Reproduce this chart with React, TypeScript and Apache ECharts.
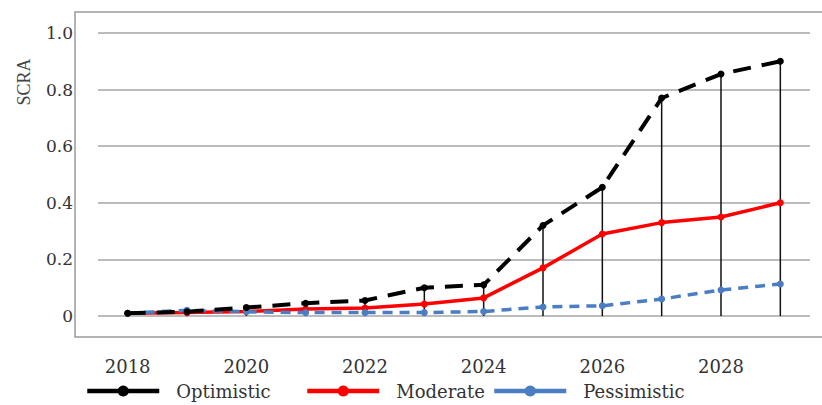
import React, { useEffect, useRef } from "react";
import * as echarts from "echarts";

const years = ["2018", "2019", "2020", "2021", "2022", "2023", "2024", "2025", "2026", "2027", "2028", "2029"];
const optimistic = [0.01, 0.015, 0.03, 0.045, 0.055, 0.1, 0.11, 0.32, 0.455, 0.77, 0.855, 0.9];
const moderate = [0.01, 0.012, 0.016, 0.025, 0.028, 0.042, 0.064, 0.17, 0.29, 0.33, 0.35, 0.4];
const pessimistic = [0.01, 0.02, 0.015, 0.012, 0.012, 0.012, 0.016, 0.032, 0.036, 0.06, 0.092, 0.113];
const yTicks = [0, 0.2, 0.4, 0.6, 0.8, 1.0];

const labelFont = "'DejaVu Serif', serif";

export default function App() {
  const ref = useRef<HTMLDivElement>(null);
  useEffect(() => {
    document.body.style.margin = "0";
    if (!ref.current) return;
    const chart = echarts.init(ref.current, null, { renderer: "svg" });
    const legendBase = (name: string, left: number) => ({
      data: [name],
      left,
      top: 382,
      padding: 0,
      itemWidth: 72,
      itemHeight: 14,
      lineStyle: { type: "solid", width: 4.5 },
      textStyle: { fontFamily: labelFont, fontSize: 18, color: "#333", padding: [0, 0, 0, 12] },
      selectedMode: false,
    });
    chart.setOption({
      animation: false,
      backgroundColor: "#fff",
      grid: { left: 98, right: 12, top: 33, bottom: 89, containLabel: false },
      xAxis: {
        type: "category",
        data: years,
        boundaryGap: true,
        axisLine: { show: false },
        axisTick: { show: false },
        axisLabel: { interval: 1, margin: 41, fontFamily: labelFont, fontSize: 18, color: "#333" },
      },
      yAxis: {
        type: "value",
        min: yTicks[0],
        max: yTicks[yTicks.length - 1],
        interval: 0.2,
        axisLine: { show: false },
        axisTick: { show: false },
        axisLabel: {
          margin: 25,
          fontFamily: labelFont,
          fontSize: 17,
          color: "#333",
          formatter: (v: number) => (v === 0 ? "0" : v.toFixed(1)),
        },
        splitLine: { lineStyle: { color: "#a6a6a6", width: 1.5 } },
      },
      legend: [
        legendBase("Optimistic", 85),
        legendBase("Moderate", 305),
        legendBase("Pessimistic", 492),
      ],
      graphic: [
        {
          type: "rect",
          shape: { x: 75, y: 12, width: 780, height: 325 },
          style: { fill: "none", stroke: "#9a9a9a", lineWidth: 1.5 },
          silent: true,
        },
        {
          type: "text",
          x: 24,
          y: 82,
          rotation: Math.PI / 2,
          style: {
            text: "SCRA",
            fontFamily: "'Liberation Serif', serif",
            fontSize: 18,
            fill: "#444",
            align: "center",
            verticalAlign: "middle",
          },
        },
      ],
      series: [
        {
          type: "custom",
          name: "drop",
          z: 1,
          silent: true,
          data: optimistic.map((v, i) => [i, v]),
          renderItem: (params: any, api: any) => {
            const top = api.coord([api.value(0), api.value(1)]);
            const bot = api.coord([api.value(0), 0]);
            return {
              type: "line",
              shape: { x1: top[0], y1: top[1], x2: bot[0], y2: bot[1] },
              style: { stroke: "#111", lineWidth: 1.5 },
            };
          },
        },
        {
          type: "line",
          name: "Moderate",
          data: moderate,
          z: 3,
          color: "#ff0000",
          symbol: "circle",
          symbolSize: 7,
          lineStyle: { width: 3.5, color: "#ff0000" },
          itemStyle: { color: "#ff0000" },
        },
        {
          type: "line",
          name: "Pessimistic",
          data: pessimistic,
          z: 4,
          color: "#4a7dc2",
          symbol: "circle",
          symbolSize: 7,
          lineStyle: { width: 3.5, color: "#4a7dc2", type: [10, 7] },
          itemStyle: { color: "#4a7dc2" },
        },
        {
          type: "line",
          name: "Optimistic",
          data: optimistic,
          z: 5,
          color: "#000",
          symbol: "circle",
          symbolSize: 7,
          lineStyle: { width: 4, color: "#000", type: [18, 11] },
          itemStyle: { color: "#000" },
        },
      ],
    });
    return () => chart.dispose();
  }, []);
  return <div ref={ref} style={{ width: 822, height: 405 }} />;
}
